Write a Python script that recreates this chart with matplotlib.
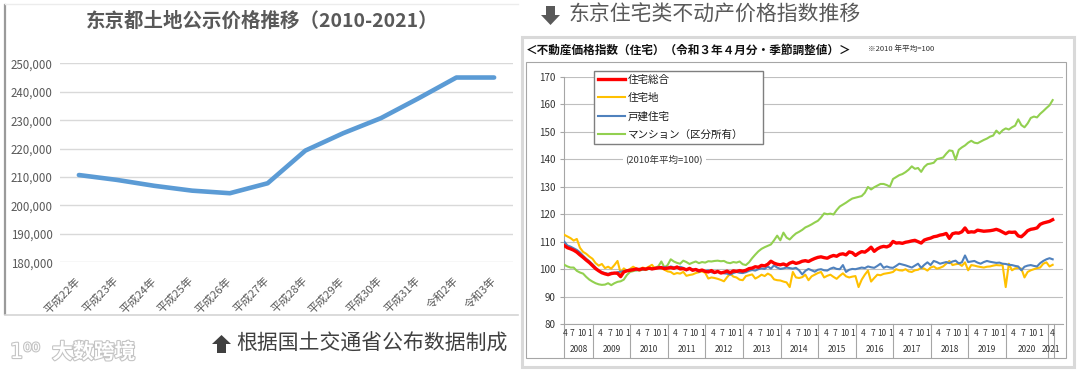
import matplotlib
matplotlib.use("Agg")
import matplotlib.pyplot as plt
from matplotlib.patches import Rectangle, Polygon
import matplotlib.patheffects as pe

W, H = 1080, 374
SC = "Noto Sans CJK SC"
JP = "Noto Sans CJK JP"

# left chart: Tokyo land public price (yen/m2)
land_labels = ["平成22年", "平成23年", "平成24年", "平成25年", "平成26年", "平成27年",
               "平成28年", "平成29年", "平成30年", "平成31年", "令和2年", "令和3年"]
land_price = [210700, 209000, 206900, 205200, 204300, 207800,
              219300, 225400, 230700, 237700, 245000, 245000]

# right chart: monthly index, Apr 2008 .. Apr 2021 (2010 avg = 100)
start_year, start_month = 2008, 4
housing_total = [
    108.6, 107.8, 107.4, 106.9, 106.2, 105.2, 104.3, 103.3, 102.4,
    101.3, 100.2, 99.4, 98.7, 98.3, 98.0, 98.4, 98.6, 98.5, 97.3, 99.0, 99.4,
    99.6, 99.8, 100.1, 99.8, 100.2, 100.0, 100.4, 100.1, 100.3, 100.5, 100.6, 100.2,
    100.4, 100.6, 100.3, 100.8, 100.1, 100.2, 99.8, 100.3, 99.6, 99.9, 99.4, 99.7,
    99.2, 99.0, 99.5, 98.8, 99.2, 98.6, 98.9, 99.3, 98.7, 99.4, 99.2, 99.5,
    99.3, 99.6, 100.2, 100.4, 100.9, 100.7, 101.4, 101.2, 101.8, 102.9, 102.2, 101.8,
    101.6, 101.9, 101.4, 102.2, 102.6, 102.1, 102.4, 102.9, 103.1, 102.8, 103.4, 103.9,
    104.3, 104.5, 104.2, 104.0, 104.6, 105.0, 104.7, 105.4, 105.6, 105.2, 106.3, 106.0,
    105.0, 105.8, 106.4, 106.2, 107.0, 108.0, 106.5, 107.4, 108.0, 108.3, 108.1, 108.6,
    110.1, 109.5, 109.6, 109.4, 109.8, 110.0, 110.3, 110.5, 110.0, 109.5, 110.6, 111.0,
    111.3, 111.8, 112.0, 112.4, 112.6, 113.0, 111.2, 112.9, 113.2, 113.1, 113.6, 115.0,
    113.4, 113.6, 113.5, 114.2, 114.0, 113.8, 113.9, 114.0, 114.2, 114.5, 114.1, 113.5,
    112.9, 113.5, 113.4, 113.5, 112.1, 111.8, 112.8, 114.0, 114.5, 114.7, 115.0, 116.3,
    116.8, 117.1, 117.4, 118.0,
]
residential_land = [
    112.5, 111.9, 111.3, 110.4, 111.0, 107.8, 106.3, 105.6, 104.6,
    103.8, 102.2, 101.3, 101.9, 100.4, 100.9, 100.2, 101.5, 103.0, 98.6, 100.3, 99.4,
    100.1, 100.9, 100.2, 99.8, 100.6, 100.3, 100.9, 101.6, 100.1, 100.6, 100.4, 99.8,
    99.2, 99.0, 98.2, 98.6, 98.4, 99.0, 97.6, 97.9, 98.1, 98.6, 98.9, 99.2,
    98.7, 96.6, 97.0, 96.8, 96.5, 96.1, 95.6, 97.1, 98.4, 97.3, 97.0, 96.2,
    96.0, 97.5, 97.8, 98.1, 96.6, 97.2, 98.0, 97.5, 98.4, 97.8, 96.3, 96.0,
    95.9, 95.5, 95.2, 93.5, 99.0, 97.0, 96.8, 97.1, 98.0, 96.0, 97.4, 98.0,
    98.6, 99.0, 97.0, 97.6, 98.0, 97.2, 96.5, 97.6, 98.5, 97.4, 97.0, 97.3,
    97.5, 93.5, 96.2, 98.0, 99.5, 95.5, 96.8, 98.0, 97.8, 98.3, 98.5, 98.7,
    99.0, 100.0, 99.6, 99.5, 100.0, 99.2, 99.0, 99.6, 99.8, 100.5, 100.2, 99.5,
    100.6, 101.0, 100.2, 100.5, 101.0, 102.0, 103.0, 101.5, 101.8, 102.0, 101.2, 102.5,
    99.6, 101.5, 101.3, 101.0, 100.8, 100.6, 100.9, 101.0, 101.3, 101.5, 101.4, 101.5,
    93.5, 102.0, 99.6, 100.3, 100.5, 100.2, 97.0, 99.0, 99.6, 100.0, 100.4, 100.6,
    102.0, 102.5, 101.0, 101.6,
]
detached_house = [
    110.0, 108.6, 108.2, 107.6, 107.0, 106.1, 104.9, 103.8, 102.9,
    101.8, 100.6, 99.5, 98.9, 98.6, 98.3, 98.7, 98.5, 98.9, 99.1, 99.3, 99.6,
    99.8, 100.0, 99.6, 100.2, 99.9, 100.1, 100.3, 100.0, 100.4, 100.6, 100.3, 100.8,
    100.5, 101.0, 100.7, 100.4, 100.9, 100.5, 99.6, 100.2, 100.0, 99.7, 99.1, 99.5,
    99.3, 99.6, 98.9, 98.6, 99.0, 98.8, 98.5, 98.4, 98.0, 98.6, 99.0, 98.7,
    98.6, 98.9, 99.4, 99.7, 99.5, 100.0, 100.3, 100.1, 101.0, 100.2, 101.4, 100.6,
    100.1, 100.3, 100.6, 100.4, 100.2, 100.5, 99.6, 98.1, 99.4, 100.1, 99.6, 99.1,
    99.8, 100.0, 99.6, 99.5, 100.2, 100.6, 100.1, 100.0, 101.5, 99.0, 99.8, 100.1,
    100.0, 100.3, 100.6, 100.4, 101.0, 100.7, 100.5, 101.2, 102.0, 100.5, 101.0, 100.6,
    100.5, 101.2, 102.0, 101.7, 101.4, 101.0, 100.6, 101.3, 102.0, 100.5, 101.6, 102.5,
    101.5, 103.0, 102.6, 102.0, 102.3, 102.6, 102.2, 102.8, 103.1, 102.1, 102.5, 105.0,
    102.6, 102.8, 103.0, 102.4, 102.0, 102.6, 103.0, 102.7, 102.5, 102.3, 102.4, 102.0,
    101.9, 101.6, 101.5, 101.2, 101.0, 99.6, 100.9, 101.3, 101.5, 101.2, 101.0, 102.2,
    103.0, 103.6, 104.0, 103.6,
]
condo = [
    101.6, 101.0, 100.6, 100.6, 99.4, 98.8, 98.4, 97.2, 96.2,
    95.5, 94.9, 94.5, 94.3, 94.4, 94.9, 94.2, 94.9, 95.4, 95.6, 96.2, 97.9,
    99.0, 99.3, 99.6, 99.5, 99.8, 99.7, 100.1, 100.4, 100.6, 101.0, 102.8, 100.6,
    101.5, 103.6, 102.8, 102.3, 102.0, 103.1, 102.6, 101.9, 102.4, 102.8, 102.2, 102.6,
    102.4, 102.9, 102.8, 103.0, 103.1, 102.9, 103.0, 102.4, 102.2, 102.6, 102.4, 102.8,
    101.8, 101.5, 102.5, 104.0, 105.3, 106.5, 107.4, 108.0, 108.5, 109.0, 110.5, 112.2,
    110.5, 113.3, 111.5, 110.8, 112.0, 113.0, 113.6, 114.3, 115.2, 115.7, 116.3, 117.0,
    117.6, 118.8, 120.3, 120.0, 120.2, 119.9, 121.5, 122.8, 123.5, 124.2, 125.0, 125.7,
    126.0, 126.3, 126.6, 127.8, 129.9, 129.0, 129.8, 130.4, 131.0, 131.0, 130.6, 130.0,
    132.8, 133.5, 134.2, 134.6, 135.3, 136.2, 137.4, 136.5, 136.8, 135.4, 137.2, 138.2,
    138.4, 138.7, 140.0, 140.3, 140.6, 142.0, 143.2, 143.0, 139.8, 143.4, 144.3, 145.0,
    146.0, 146.7, 146.0, 145.8, 146.4, 147.0, 147.5, 148.2, 148.6, 150.4, 149.3, 150.5,
    151.2, 150.8, 151.6, 152.2, 154.5, 152.4, 151.6, 153.0, 155.0, 155.5, 155.2, 156.5,
    157.5, 158.6, 159.6, 161.5,
]
series_names = ["住宅総合", "住宅地", "戸建住宅", "マンション（区分所有）"]
series_colors = ["#ff0000", "#ffc000", "#4f81bd", "#92d050"]


def fx(px):
    return px / W


def fy(py):
    return 1 - py / H


def px_axes(x0, y0, x1, y1):
    return fig.add_axes([fx(x0), fy(y1), (x1 - x0) / W, (y1 - y0) / H])


fig = plt.figure(figsize=(W / 100, H / 100), dpi=100)
fig.patch.set_facecolor("white")

# background layer in pixel coords (cards, arrows, captions)
bg = fig.add_axes([0, 0, 1, 1], zorder=0)
bg.set_xlim(0, W)
bg.set_ylim(H, 0)
bg.axis("off")

# left card borders
bg.plot([4.5, 4.5], [5, 314], color="#9a9a9a", lw=1.6)
bg.plot([5, 518], [4, 4], color="#ececec", lw=1)
bg.plot([5, 518], [315, 315], color="#d4d4d4", lw=1.2)

# right card
bg.add_patch(Rectangle((522, 37), 552, 330, facecolor="white", edgecolor="#d9d9d9", lw=2.2))
bg.add_patch(Rectangle((526, 61.7), 540, 296.6, facecolor="none", edgecolor="#a6a6a6", lw=0.8))

# arrows
bg.add_patch(Polygon([(546, 6), (555, 6), (555, 15), (560, 15), (550.5, 25), (541, 15), (546, 15)],
                     closed=True, facecolor="#595959", edgecolor="none"))
bg.add_patch(Polygon([(217, 353), (226, 353), (226, 344), (231, 344), (221.5, 335), (212, 344), (217, 344)],
                     closed=True, facecolor="#404040", edgecolor="none"))

bg.text(262, 21.5, "东京都土地公示价格推移（2010-2021）", family=SC, fontsize=14, fontweight="bold",
        color="#595959", ha="center", va="center")
bg.text(569, 15, "东京住宅类不动产价格指数推移", family=SC, fontsize=15, color="#595959",
        ha="left", va="center")
bg.text(236, 343.5, "根据国土交通省公布数据制成", family=SC, fontsize=15, color="#404040",
        ha="left", va="center")
bg.text(52, 352, "大数跨境", family=SC, fontsize=15, fontweight="bold", color="white", ha="left", va="center",
        path_effects=[pe.withStroke(linewidth=1.6, foreground="#c4c4c4")])
bg.text(10, 352, "1⁰⁰", family=["DejaVu Sans"], fontsize=15, color="white", ha="left", va="center",
        path_effects=[pe.withStroke(linewidth=1.6, foreground="#c4c4c4")])
bg.text(526, 50.5, "＜不動産価格指数（住宅）（令和３年４月分・季節調整値）＞", family=JP, fontsize=8.4,
        fontweight="bold", color="#111111", ha="left", va="center")
bg.text(868, 49, "※2010 年平均=100", family=JP, fontsize=5.5, color="#333333", ha="left", va="center")

# ---- left chart ----
ax1 = px_axes(60, 63.3, 513, 262.3)
ax1.set_facecolor("none")
x_land = list(range(len(land_price)))
ax1.plot(x_land, land_price, color="#5b9bd5", lw=3.3, solid_capstyle="round", solid_joinstyle="round",
         zorder=3)
ax1.set_xlim(-0.5, len(land_price) - 0.5)
ax1.set_ylim(180000, 250000)
ax1.set_yticks(range(180000, 250001, 10000))
ax1.set_yticklabels([f"{v:,}" for v in range(180000, 250001, 10000)], family=SC, fontsize=8.3,
                    color="#595959")
ax1.set_xticks(x_land)
ax1.set_xticklabels(land_labels, family=SC, fontsize=8, color="#595959", rotation=45, ha="right",
                    va="center", rotation_mode="anchor")
ax1.tick_params(axis="both", length=0)
ax1.tick_params(axis="y", pad=5.3)
ax1.tick_params(axis="x", pad=12)
for s in ax1.spines.values():
    s.set_visible(False)
ax1.grid(axis="y", color="#d9d9d9", lw=1)
ax1.set_axisbelow(True)

# ---- right chart ----
n = len(housing_total)
months = [((start_month - 1 + i) // 12 + start_year, (start_month - 1 + i) % 12 + 1) for i in range(n)]
xm = list(range(n))

ax2 = px_axes(564.3, 76.7, 1063, 324.2)
ax2.set_facecolor("none")
order = [3, 1, 2, 0]
all_series = [housing_total, residential_land, detached_house, condo]
handles = {}
for k in order:
    lw = 2.4 if k == 0 else 1.5
    (ln,) = ax2.plot(xm, all_series[k], color=series_colors[k], lw=lw, zorder=3 + (k == 0))
    handles[k] = ln
ax2.set_xlim(0, 159.3)
ax2.set_ylim(80, 170)
ax2.set_yticks(range(80, 171, 10))
ax2.set_yticklabels([str(v) for v in range(80, 171, 10)], family=JP, fontsize=7, color="#333333")
ax2.tick_params(axis="y", length=3, color="#a6a6a6", width=0.8, pad=3)
ax2.set_xticks([])
for name, s in ax2.spines.items():
    if name in ("left", "bottom"):
        s.set_color("#a6a6a6")
        s.set_linewidth(0.8)
    else:
        s.set_visible(False)
ax2.grid(axis="y", color="#bfbfbf", lw=0.8)
ax2.set_axisbelow(True)

tr = ax2.get_xaxis_transform()
ax_h = 324.2 - 76.7
y_tick = -(334 - 324.2) / ax_h
y_year = -(350 - 324.2) / ax_h
y_sep = -(357 - 324.2) / ax_h

for i, (yr, mo) in enumerate(months):
    if mo in (1, 4, 7, 10):
        if i == 0:
            xpos = 0.4
        elif i == n - 1:
            xpos = i
        elif mo == 1:
            xpos = i - 0.9
        else:
            xpos = i - 0.5
        ax2.text(xpos, y_tick, str(mo), transform=tr, family=JP, fontsize=6, color="#333333",
                 ha="center", va="center", clip_on=False)

# year group separators
edges = [0] + [i + 0.1 for i, (yr, mo) in enumerate(months) if mo == 1 and yr <= 2020] + [154.6, 156.4]
group_years = list(range(start_year, months[-1][0] + 1))
for e in edges:
    ax2.plot([e, e], [0, y_sep], transform=tr, color="#a6a6a6", lw=0.8, clip_on=False)
for j, yr in enumerate(group_years):
    ax2.text((edges[j] + edges[j + 1]) / 2, y_year, str(yr), transform=tr, family=JP, fontsize=6,
             color="#333333", ha="center", va="center", clip_on=False)

ax2.text(31.9, 140, "(2010年平均=100)", family=JP, fontsize=6.8, color="#333333", ha="center", va="center",
         bbox=dict(boxstyle="square,pad=0.3", facecolor="white", edgecolor="none"), zorder=2.5)

leg = ax2.legend([handles[k] for k in range(4)], series_names, loc="upper left",
                 bbox_to_anchor=(fx(594), fy(145), (763 - 594) / W, (145 - 70.7) / H),
                 bbox_transform=fig.transFigure, mode="expand", borderaxespad=0,
                 prop={"family": JP, "size": 7.6}, frameon=True, fancybox=False,
                 edgecolor="#7f7f7f", framealpha=1, handlelength=2.5, handletextpad=0.3,
                 labelspacing=0.78, borderpad=0.4)
leg.get_frame().set_linewidth(1.0)
for t in leg.get_texts():
    t.set_color("#1a1a1a")
leg.set_zorder(10)

fig.savefig("out.png", dpi=100, facecolor="white")
